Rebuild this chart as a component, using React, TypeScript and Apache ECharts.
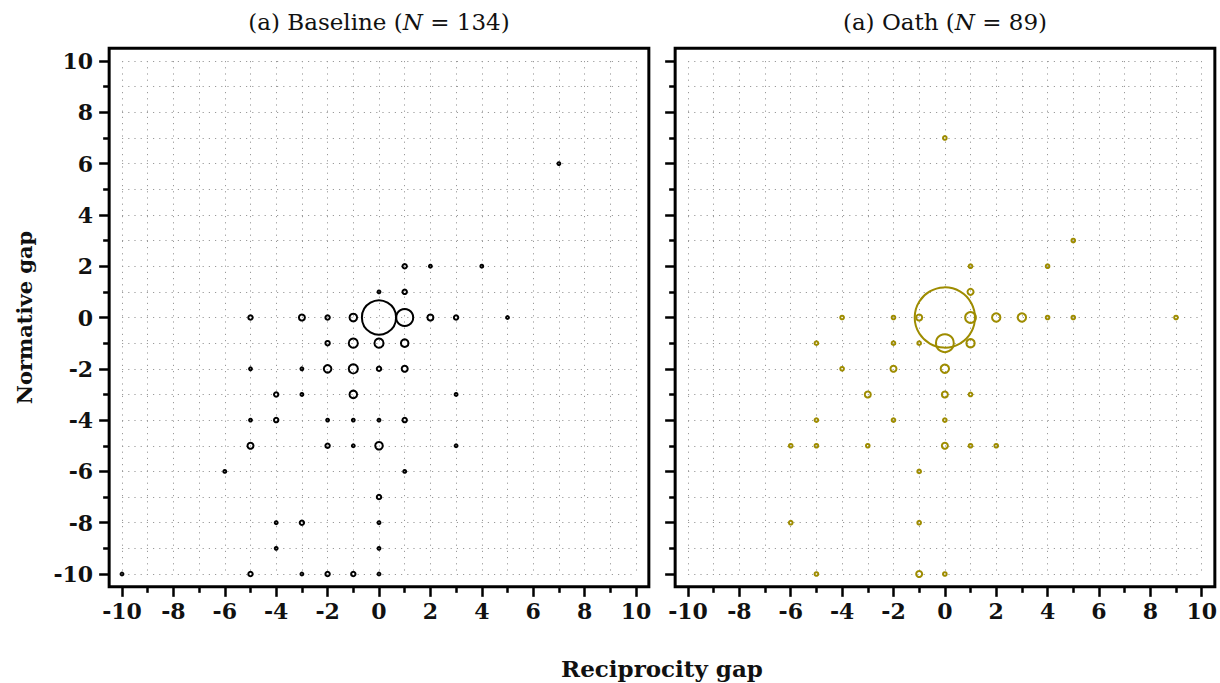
import React, { useEffect, useRef } from "react";
import * as echarts from "echarts";

// ---- data ----
const baselineTitle = "(a) Baseline";
const oathTitle = "(a) Oath";
const baselineN = 134;
const oathN = 89;
const xAxisTitle = "Reciprocity gap";
const yAxisTitle = "Normative gap";

// [reciprocity gap, normative gap, count]
const baselinePoints: number[][] = [
  [7, 6, 1],
  [1, 2, 2], [2, 2, 1], [4, 2, 1],
  [0, 1, 1], [1, 1, 2],
  [-5, 0, 2], [-3, 0, 3], [-2, 0, 2], [-1, 0, 4], [0, 0, 21], [1, 0, 10], [2, 0, 3], [3, 0, 2], [5, 0, 1],
  [-2, -1, 2], [-1, -1, 5], [0, -1, 5], [1, -1, 4],
  [-5, -2, 1], [-3, -2, 1], [-2, -2, 4], [-1, -2, 5], [0, -2, 2], [1, -2, 3],
  [-4, -3, 2], [-3, -3, 1], [-1, -3, 4], [3, -3, 1],
  [-5, -4, 1], [-4, -4, 2], [-2, -4, 1], [-1, -4, 1], [0, -4, 1], [1, -4, 2],
  [-5, -5, 3], [-2, -5, 2], [-1, -5, 1], [0, -5, 4], [3, -5, 1],
  [-6, -6, 1], [1, -6, 1],
  [0, -7, 2],
  [-4, -8, 1], [-3, -8, 2], [0, -8, 1],
  [-4, -9, 1], [0, -9, 1],
  [-10, -10, 1], [-5, -10, 2], [-3, -10, 1], [-2, -10, 2], [-1, -10, 2], [0, -10, 1],
];

const oathPoints: number[][] = [
  [0, 7, 1], [5, 3, 1], [1, 2, 1], [4, 2, 1], [1, 1, 2],
  [-4, 0, 1], [-2, 0, 1], [-1, 0, 2], [0, 0, 25], [1, 0, 4], [2, 0, 3], [3, 0, 3], [4, 0, 1], [5, 0, 1], [9, 0, 1],
  [-5, -1, 1], [-2, -1, 1], [-1, -1, 1], [0, -1, 7], [1, -1, 3],
  [-4, -2, 1], [-2, -2, 2], [0, -2, 3],
  [-3, -3, 2], [0, -3, 2], [1, -3, 1],
  [-5, -4, 1], [-2, -4, 1], [0, -4, 1],
  [-6, -5, 1], [-5, -5, 1], [-3, -5, 1], [0, -5, 2], [1, -5, 1], [2, -5, 1],
  [-1, -6, 1],
  [-6, -8, 1], [-1, -8, 1],
  [-5, -10, 1], [-1, -10, 2], [0, -10, 1],
];

const axisMin = -10;
const axisMax = 10;
const axisInterval = 2;

// ---- layout / style ----
const SERIF = "'DejaVu Serif', 'Liberation Serif', serif";
const OLIVE = "#9e8c00";
const GRID_TOP = 61;
const GRID_W = 514;
const GRID_H = 513;
const GRID_LEFTS = [122, 688];
const UX = GRID_W / 20;
const UY = GRID_H / 20;

function sizeFor(count: number, n: number) {
  return 1.3 + (210 * count) / n;
}

export default function App() {
  const ref = useRef<HTMLDivElement>(null);

  useEffect(() => {
    if (!ref.current) return;
    const chart = echarts.init(ref.current, undefined, { renderer: "svg" });

    const dotted = { color: "#9a9a9a", width: 1, type: [1.2, 5] as any };

    const common = {
      type: "value" as const,
      min: axisMin,
      max: axisMax,
      interval: axisInterval,
      axisLine: { show: false, onZero: false },
      axisTick: { show: true, length: 10, lineStyle: { color: "#000", width: 2.5 } },
      minorTick: { show: true, splitNumber: 2, length: 6, lineStyle: { color: "#000", width: 2.5 } },
      splitLine: { show: true, lineStyle: dotted },
      minorSplitLine: { show: true, lineStyle: dotted },
    };

    const mkX = (gridIndex: number) => ({
      ...common,
      gridIndex,
      position: "bottom" as const,
      offset: UY / 2,
      axisLabel: {
        show: true,
        margin: 13,
        color: "#111",
        fontFamily: SERIF,
        fontWeight: "bold" as const,
        fontSize: 22,
      },
    });

    const mkY = (gridIndex: number, showLabel: boolean) => ({
      ...common,
      gridIndex,
      position: "left" as const,
      offset: UX / 2,
      axisLabel: {
        show: showLabel,
        margin: 16,
        color: "#111",
        fontFamily: SERIF,
        fontWeight: "bold" as const,
        fontSize: 22,
      },
    });

    const mkSeries = (idx: number, pts: number[][], n: number, color: string) => ({
      type: "scatter" as const,
      xAxisIndex: idx,
      yAxisIndex: idx,
      symbol: "circle",
      symbolSize: (v: number[]) => sizeFor(v[2], n),
      data: pts.map((p) => [p[0], p[1], p[2]]),
      itemStyle: { color: "rgba(0,0,0,0)", borderColor: color, borderWidth: 2, opacity: 1 },
      emphasis: { disabled: true },
      z: 5,
    });

    const frames = GRID_LEFTS.map((l) => ({
      type: "rect" as const,
      shape: { x: l - UX / 2, y: GRID_TOP - UY / 2, width: GRID_W + UX, height: GRID_H + UY },
      style: { fill: "none", stroke: "#000", lineWidth: 3 },
      z: 100,
      silent: true,
    }));

    const titleText = (label: string, n: number, cx: number) => ({
      type: "text" as const,
      x: cx,
      y: 22,
      z: 100,
      style: {
        text: `{r|${label} (}{i|N}{r| = ${n})}`,
        rich: {
          r: { fontFamily: SERIF, fontSize: 23, fill: "#111", fontWeight: "normal" },
          i: { fontFamily: SERIF, fontSize: 23, fill: "#111", fontStyle: "italic" },
        },
        align: "center",
        verticalAlign: "middle",
        textAlign: "center",
        textVerticalAlign: "middle",
      },
    });

    chart.setOption({
      animation: false,
      backgroundColor: "#fff",
      grid: GRID_LEFTS.map((l) => ({ left: l, top: GRID_TOP, width: GRID_W, height: GRID_H, containLabel: false })),
      xAxis: [mkX(0), mkX(1)],
      yAxis: [mkY(0, true), mkY(1, false)],
      series: [
        mkSeries(0, baselinePoints, baselineN, "#000"),
        mkSeries(1, oathPoints, oathN, OLIVE),
      ],
      graphic: [
        ...frames,
        titleText(baselineTitle, baselineN, GRID_LEFTS[0] + GRID_W / 2),
        titleText(oathTitle, oathN, GRID_LEFTS[1] + GRID_W / 2),
        {
          type: "text",
          x: 24,
          y: GRID_TOP + GRID_H / 2,
          rotation: Math.PI / 2,
          z: 100,
          style: {
            text: yAxisTitle,
            fontFamily: SERIF,
            fontWeight: "bold",
            fontSize: 21,
            fill: "#111",
            align: "center",
            verticalAlign: "middle",
            textAlign: "center",
            textVerticalAlign: "middle",
          },
        },
        {
          type: "text",
          x: (GRID_LEFTS[0] - UX / 2 + GRID_LEFTS[1] + GRID_W + UX / 2) / 2,
          y: 668,
          z: 100,
          style: {
            text: xAxisTitle,
            fontFamily: SERIF,
            fontWeight: "bold",
            fontSize: 23,
            fill: "#111",
            align: "center",
            verticalAlign: "middle",
            textAlign: "center",
            textVerticalAlign: "middle",
          },
        },
      ],
    });

    return () => chart.dispose();
  }, []);

  return (
    <div
      ref={ref}
      style={{ position: "fixed", left: 0, top: 0, width: 1220, height: 683, background: "#fff" }}
    />
  );
}
